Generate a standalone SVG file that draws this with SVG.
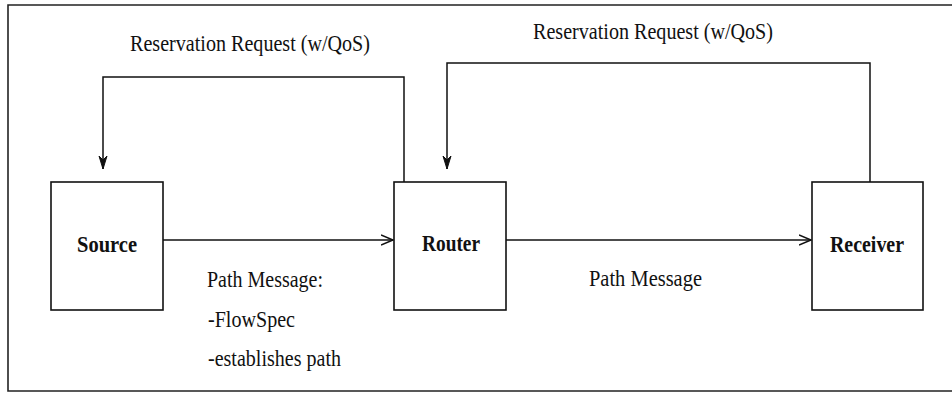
<svg xmlns="http://www.w3.org/2000/svg" width="952" height="393" viewBox="0 0 952 393">
<style>
.box{fill:#fff;stroke:#111;stroke-width:1.6}
.ln{fill:none;stroke:#111;stroke-width:1.5}
.lbl{font-family:"Liberation Serif","Times New Roman",serif;font-size:23px;fill:#111}
.nm{font-family:"Liberation Serif","Times New Roman",serif;font-size:23px;font-weight:bold;fill:#111;text-anchor:middle}
</style>
<defs>
<marker id="ah" markerWidth="14" markerHeight="12" refX="12" refY="6" orient="auto" markerUnits="userSpaceOnUse">
<path d="M0,1 L12,6 L0,11" fill="none" stroke="#111" stroke-width="1.5"/>
</marker>
<marker id="ad" markerWidth="14" markerHeight="14" refX="13" refY="6" orient="auto" markerUnits="userSpaceOnUse">
<path d="M0,2 L13,6 L0,10 L4,6 Z" fill="#111" stroke="#111" stroke-width="1"/>
</marker>
</defs>
<rect width="952" height="393" fill="#fff"/>
<path d="M952,5 L8,5 L8,391 L952,391" fill="none" stroke="#222" stroke-width="1.6"/>
<g id="connectors">
<path class="ln" d="M404,182 L404,77 L103,77 L103,169" marker-end="url(#ad)"/>
<path class="ln" d="M870,182 L870,63 L447,63 L447,169" marker-end="url(#ad)"/>
<path class="ln" d="M163,240 L393,240" marker-end="url(#ah)"/>
<path class="ln" d="M506,240 L811,240" marker-end="url(#ah)"/>
<text class="lbl" x="130" y="51" textLength="240" lengthAdjust="spacingAndGlyphs">Reservation Request (w/QoS)</text>
<text class="lbl" x="533" y="39" textLength="240" lengthAdjust="spacingAndGlyphs">Reservation Request (w/QoS)</text>
<text class="lbl" x="207" y="287" textLength="116" lengthAdjust="spacingAndGlyphs">Path Message:</text>
<text class="lbl" x="208" y="327" textLength="87" lengthAdjust="spacingAndGlyphs">-FlowSpec</text>
<text class="lbl" x="208" y="366" textLength="133" lengthAdjust="spacingAndGlyphs">-establishes path</text>
<text class="lbl" x="589" y="286" textLength="113" lengthAdjust="spacingAndGlyphs">Path Message</text>
</g>
<g id="source">
<rect class="box" x="51" y="182" width="112" height="128"/>
<text class="nm" x="107" y="252" textLength="60" lengthAdjust="spacingAndGlyphs">Source</text>
</g>
<g id="router">
<rect class="box" x="394" y="182" width="112" height="128"/>
<text class="nm" x="451" y="251" textLength="58" lengthAdjust="spacingAndGlyphs">Router</text>
</g>
<g id="receiver">
<rect class="box" x="812" y="182" width="111" height="128"/>
<text class="nm" x="867" y="252" textLength="74" lengthAdjust="spacingAndGlyphs">Receiver</text>
</g>
</svg>
